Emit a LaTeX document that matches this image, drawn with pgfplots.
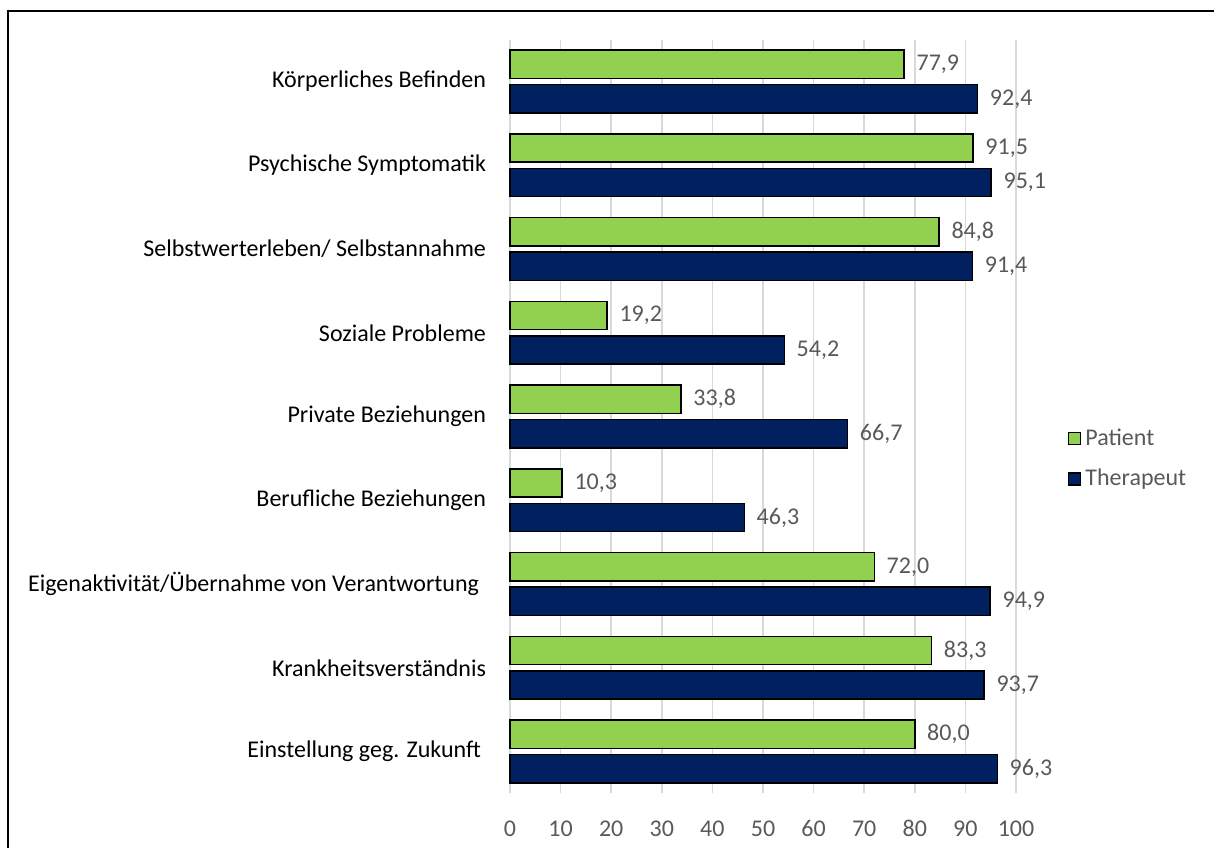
\documentclass[border=0pt]{standalone}
\usepackage{fontspec}
\setmainfont{Carlito}
\usepackage{pgfplots}
\pgfplotsset{compat=1.18}
\definecolor{pgreen}{HTML}{92D050}
\definecolor{tnavy}{HTML}{002060}
\definecolor{txtgray}{HTML}{595959}
\definecolor{gridgray}{HTML}{D9D9D9}
\begin{document}
\begin{tikzpicture}
\path[use as bounding box] (0,0) rectangle (607pt,424pt);
\draw[line width=1.1pt] (4pt,0) -- (4pt,418.5pt) -- (607pt,418.5pt);
\begin{axis}[
  at={(255pt,27.3pt)}, anchor=south west,
  x=2.53pt, y=41.875pt,
  xbar, bar width=14.2pt,
  xmin=0, xmax=100, ymin=-0.5, ymax=8.5,
  xtick={0,10,...,100},
  ytick={0,...,8},
  yticklabels={{Einstellung geg. Zukunft\hspace*{2.5pt}},{Krankheitsverständnis},{Eigenaktivität/Übernahme von Verantwortung\hspace*{3.5pt}},{Berufliche Beziehungen},{Private Beziehungen},{Soziale Probleme},{Selbstwerterleben/ Selbstannahme},{Psychische Symptomatik},{Körperliches Befinden}},
  major tick length=0pt,
  axis line style={draw=none},
  xmajorgrids, grid style={draw=gridgray, line width=0.8pt},
  /pgf/number format/assume math mode=true,
  tick label style={font=\fontsize{12}{14}\selectfont},
  xticklabel style={text=txtgray, yshift=-10pt},
  yticklabel style={text=black, xshift=-8.5pt},
  nodes near coords={\pgfmathprintnumber[use comma,fixed,fixed zerofill,precision=1]{\pgfplotspointmeta}},
  nodes near coords style={anchor=west, xshift=2.5pt, text=txtgray, font=\fontsize{12}{14}\selectfont},
  legend style={at={(axis description cs:1.102,0.444)}, anchor=west, draw=none, fill=none, text=txtgray, font=\fontsize{12}{14}\selectfont, row sep=6.5pt, cells={anchor=west}, inner sep=0pt},
  legend image code/.code={\draw[#1,draw=black,line width=0.7pt] (0pt,-3pt) rectangle (6pt,3pt);},
  clip=false,
]
\addplot[fill=pgreen, draw=black, line width=0.75pt, bar shift=8.625pt] coordinates {
 (80.0,0) (83.3,1) (72.0,2) (10.3,3) (33.8,4) (19.2,5) (84.8,6) (91.5,7) (77.9,8)};
\addplot[fill=tnavy, draw=black, line width=0.75pt, bar shift=-8.625pt] coordinates {
 (96.3,0) (93.7,1) (94.9,2) (46.3,3) (66.7,4) (54.2,5) (91.4,6) (95.1,7) (92.4,8)};
\legend{Patient,Therapeut}
\end{axis}
\end{tikzpicture}
\end{document}
